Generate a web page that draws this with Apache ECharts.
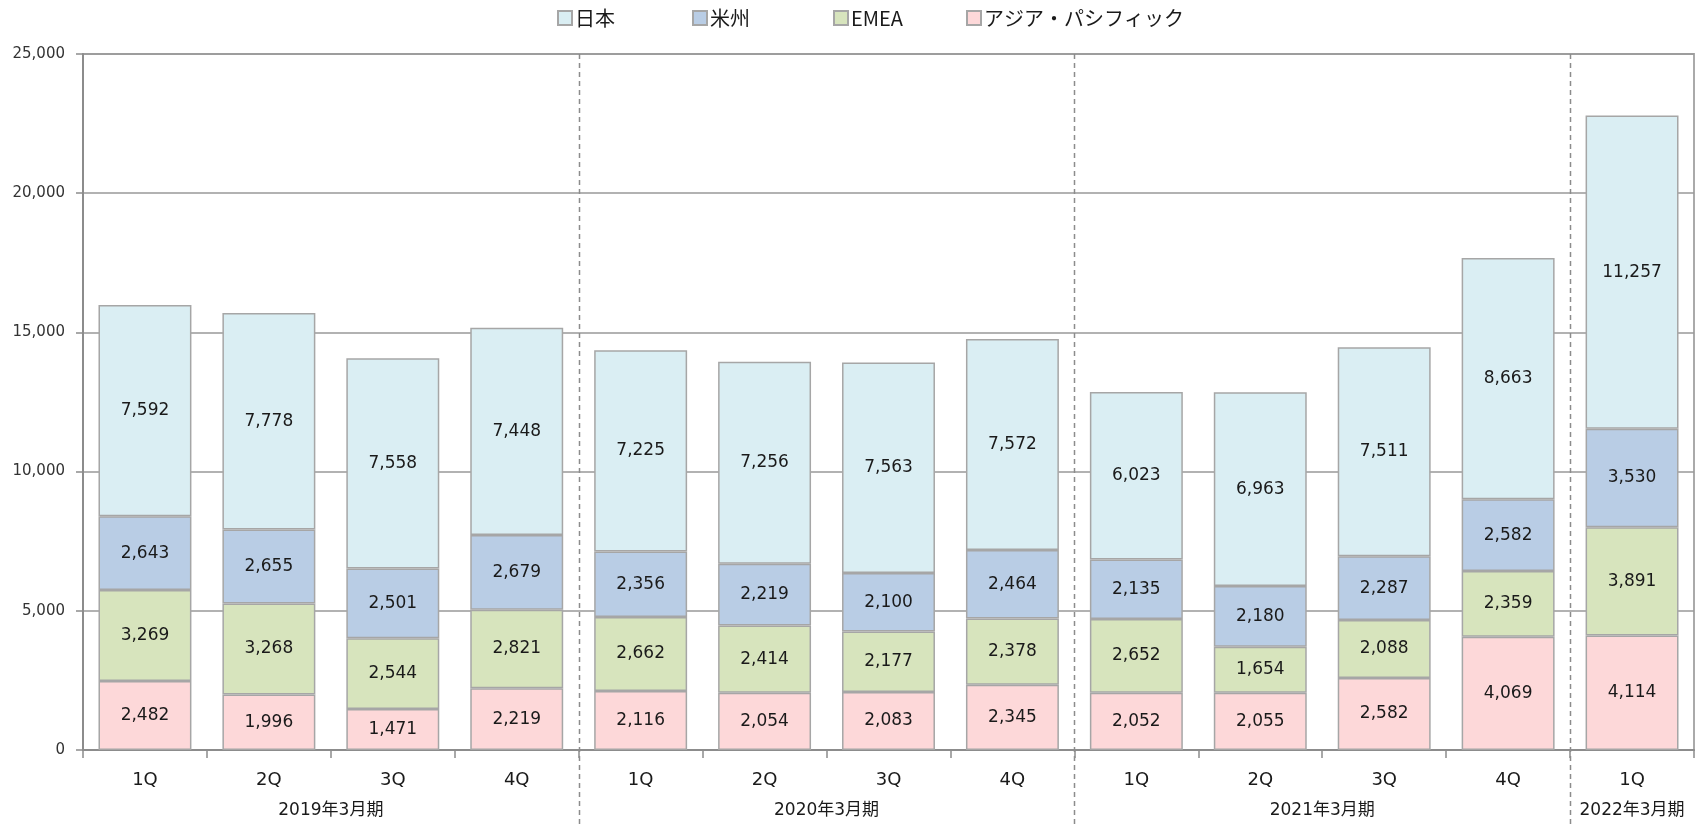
<!DOCTYPE html>
<html>
<head>
<meta charset="utf-8">
<script src="https://cdn.jsdelivr.net/npm/echarts@6/dist/echarts.min.js"></script>
<style>
html,body{margin:0;padding:0;background:#fff;}
#main{width:1702px;height:824px;}
</style>
</head>
<body>
<div id="main"></div>
<script>
// ---- data ----
var quarters = ['1Q','2Q','3Q','4Q','1Q','2Q','3Q','4Q','1Q','2Q','3Q','4Q','1Q'];
var fiscalYears = ['2019年3月期','2020年3月期','2021年3月期','2022年3月期'];
var fiscalYearStart = [0, 4, 8, 12];   // first category index of each fiscal year
var fiscalYearEnd = [4, 8, 12, 13];    // category index after the last of each fiscal year
var seriesNames = ['日本','米州','EMEA','アジア・パシフィック'];
var japan = [7592,7778,7558,7448,7225,7256,7563,7572,6023,6963,7511,8663,11257];
var americas = [2643,2655,2501,2679,2356,2219,2100,2464,2135,2180,2287,2582,3530];
var emea = [3269,3268,2544,2821,2662,2414,2177,2378,2652,1654,2088,2359,3891];
var asiaPacific = [2482,1996,1471,2219,2116,2054,2083,2345,2052,2055,2582,4069,4114];
var yTicks = [0,5000,10000,15000,20000,25000];

// ---- chart ----
var colors = {'日本':'#daeef3','米州':'#b9cde5','EMEA':'#d7e4bd','アジア・パシフィック':'#fdd8d9'};
var legendLeft = [557, 692, 833, 966];
var chart = echarts.init(document.getElementById('main'), null, {renderer:'canvas'});
var numFont = 'DejaVu Sans, Noto Sans CJK JP, sans-serif';
var cjkFont = 'Noto Sans CJK JP, DejaVu Sans, sans-serif';

function mkSeries(name, data){
  return {
    name: name, type: 'bar', stack: 'total', data: data,
    xAxisIndex: 0, yAxisIndex: 0,
    barWidth: '75%',
    itemStyle: {color: colors[name], borderColor: '#a6a6a6', borderWidth: 1.5},
    label: {
      show: true, position: 'inside', color: '#1a1a1a',
      fontFamily: numFont, fontSize: 17,
      formatter: function(p){ return Number(p.value).toLocaleString('en-US'); }
    },
    emphasis: {disabled: true}
  };
}

var yearCenters = fiscalYears.map(function(_, i){ return (fiscalYearStart[i] + fiscalYearEnd[i]) / 2; });

var legends = seriesNames.map(function(n, i){
  return {
    data: [n], left: legendLeft[i], top: 8, padding: 0,
    itemWidth: 14, itemHeight: 14, icon: 'rect',
    textStyle: {fontFamily: cjkFont, fontSize: 20, color: '#1a1a1a', padding: [0,0,0,-2]}
  };
});

var option = {
  animation: false,
  backgroundColor: '#ffffff',
  legend: legends,
  grid: {
    left: 83, right: 8, top: 54, bottom: 74,
    show: true, borderColor: '#aaaaaa', borderWidth: 2, backgroundColor: 'transparent'
  },
  xAxis: [{
    type: 'category', data: quarters, position: 'bottom',
    axisLine: {show: true, lineStyle: {color: '#8c8c8c', width: 2}},
    axisTick: {show: true, length: 8, lineStyle: {color: '#8c8c8c', width: 1.5}},
    axisLabel: {color: '#1a1a1a', fontFamily: numFont, fontSize: 18, margin: 21},
    splitLine: {show: false}
  }, {
    type: 'value', min: 0, max: quarters.length, position: 'bottom',
    axisLine: {show: false}, axisTick: {show: false}, splitLine: {show: false},
    axisLabel: {
      show: true, customValues: yearCenters, margin: 52,
      color: '#1a1a1a', fontFamily: numFont, fontSize: 17,
      formatter: function(v){
        for (var i = 0; i < yearCenters.length; i++) {
          if (Math.abs(yearCenters[i] - v) < 1e-6) return fiscalYears[i];
        }
        return '';
      }
    }
  }],
  yAxis: [{
    type: 'value', min: yTicks[0], max: yTicks[yTicks.length-1], interval: yTicks[1]-yTicks[0],
    axisLine: {show: true, lineStyle: {color: '#8c8c8c', width: 2}},
    axisTick: {show: true, length: 7, lineStyle: {color: '#8c8c8c', width: 1.5}},
    axisLabel: {
      color: '#333333', fontFamily: numFont, fontSize: 15, margin: 18,
      formatter: function(v){ return Number(v).toLocaleString('en-US'); }
    },
    splitLine: {show: true, lineStyle: {color: '#999999', width: 1.5}}
  }],
  series: [
    mkSeries('アジア・パシフィック', asiaPacific),
    mkSeries('EMEA', emea),
    mkSeries('米州', americas),
    mkSeries('日本', japan)
  ]
};
chart.setOption(option);

// dashed separators between fiscal years, placed through the axis scales
var topY = chart.convertToPixel({yAxisIndex: 0}, yTicks[yTicks.length-1]);
var bottomY = chart.getHeight();
var lines = fiscalYearStart.slice(1).map(function(idx){
  var x = Math.round(chart.convertToPixel({xAxisIndex: 1}, idx)) + 0.5;
  return {
    type: 'line', z: 100, silent: true,
    shape: {x1: x, y1: topY, x2: x, y2: bottomY},
    style: {stroke: '#8c8c8c', lineWidth: 1.5, lineDash: [5, 4]}
  };
});
chart.setOption({graphic: {elements: lines}});
</script>
</body>
</html>
